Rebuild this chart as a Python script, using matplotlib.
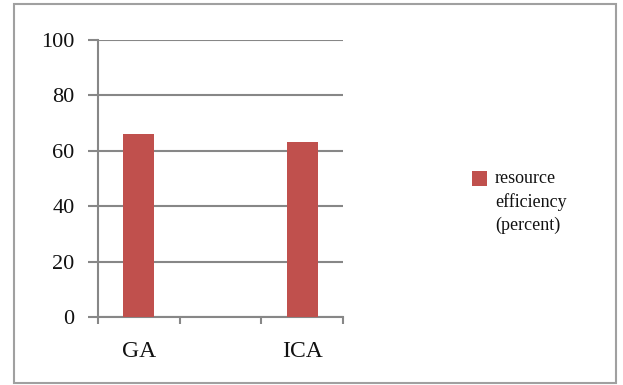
import matplotlib.pyplot as plt
from matplotlib.patches import Rectangle

categories = ["GA", "", "ICA"]
values = [66, None, 63]
series_name = "resource\nefficiency\n(percent)"
yticks = [0, 20, 40, 60, 80, 100]

bar_color = "#c0504d"
grid_color = "#878787"

plt.rcParams['font.family'] = ['Liberation Serif', 'DejaVu Serif']

fig = plt.figure(figsize=(6.23, 3.85), dpi=100)
W, H = 623, 385

# outer chart border
fig.patches.append(Rectangle((14 / W, 2 / H), 602 / W, 379 / H, transform=fig.transFigure,
                             fill=False, edgecolor="#a0a0a0", linewidth=1.5))

ax = fig.add_axes([98 / W, 1 - 317 / H, 245 / W, 277 / H])

xs = [i for i, v in enumerate(values) if v is not None]
vals = [v for v in values if v is not None]
bars = ax.bar(xs, vals, width=0.38, color=bar_color, label=series_name, zorder=3)

ax.set_xlim(-0.5, 2.5)
ax.set_ylim(0, 100)
ax.set_yticks(yticks)
ax.set_yticklabels([str(t) for t in yticks], fontsize=16, color="#111111")
ax.yaxis.grid(True, color=grid_color, linewidth=1.5, zorder=0)
ax.set_axisbelow(True)

ax.set_xticks([-0.5, 0.5, 1.5, 2.5])
ax.set_xticklabels([])
ax.set_xticks([0, 1, 2], minor=True)
ax.set_xticklabels(categories, minor=True, fontsize=17, color="#111111")
ax.tick_params(axis='x', which='minor', length=0, pad=17)
ax.tick_params(axis='x', which='major', length=5, width=1.5, color=grid_color, direction='out')
ax.tick_params(axis='y', length=7, width=1.5, color=grid_color, direction='out', pad=10)

for s in ['top', 'right']:
    ax.spines[s].set_visible(False)
for s in ['left', 'bottom']:
    ax.spines[s].set_color(grid_color)
    ax.spines[s].set_linewidth(1.5)

# legend: square key aligned with first line of label
fig.patches.append(Rectangle((472 / W, 1 - 186 / H), 15 / W, 15 / H, transform=fig.transFigure,
                             facecolor=bar_color, edgecolor="none"))
fig.text(495 / W, 1 - 170 / H, series_name, fontsize=13, va='top', ha='left',
         linespacing=1.45, color="#111111")

fig.savefig("out.png", dpi=100)
